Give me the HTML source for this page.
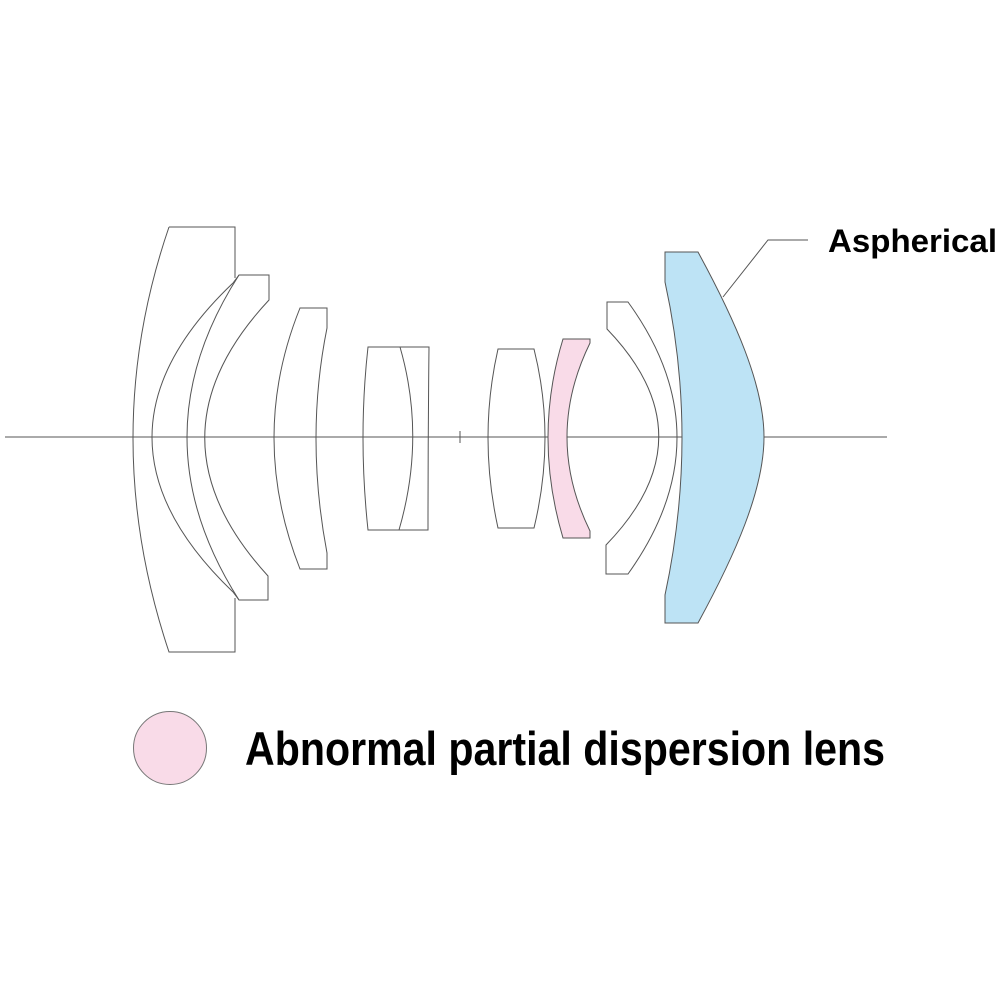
<!DOCTYPE html>
<html><head><meta charset="utf-8"><style>html,body{margin:0;padding:0;background:#fff}svg{display:block}</style></head>
<body>
<svg width="1000" height="1000" viewBox="0 0 1000 1000" xmlns="http://www.w3.org/2000/svg">
<g fill="none" stroke="#555" stroke-width="1">
<line x1="5" y1="437" x2="887" y2="437"/>
<line x1="460" y1="431" x2="460" y2="443"/>
<!-- blue aspherical -->
<path d="M665,252 L698,252 C735,320 764,385 764,437 C764,490 735,555 698,623 L665,623 L665,595 Q699,437 665,282 Z" fill="#bde3f5"/>
<!-- pink -->
<path d="M563,339 L590,339 L590,343 Q544,437 590,531 L590,538 L563,538 Q533,437 563,339 Z" fill="#f9dbe8"/>
<!-- lens 1 -->
<path d="M169,227 L235,227 L235,278 M233,283 Q71,437 233,592 M235,598 L235,652 L169,652 Q97,437 169,227"/>
<!-- lens 2 -->
<path d="M239,275 L269,275 L269,300 Q141,437 268,576 L268,600 L239,600 Q135,437 239,275 Z"/>
<path d="M239,275 L233,283 M239,600 L233,592"/>
<!-- lens 3 -->
<path d="M300,308 L327,308 L327,328 Q305,437 327,553 L327,569 L300,569 Q248,437 300,308 Z"/>
<!-- lens 4 doublet -->
<path d="M368,347 L429,347 Q428,437 428,530 L368,530 Q358,437 368,347 Z"/>
<path d="M400,347 Q426,437 399,530"/>
<!-- lens 5 -->
<path d="M498,349 L534,349 Q556,437 534,528 L498,528 Q478,437 498,349 Z"/>
<!-- lens 7 -->
<path d="M607,302 L628,302 Q726,437 628,574 L606,574 L606,545 Q711,437 607,329 Z"/>
<!-- leader -->
<polyline points="723,297 768,240 808,240"/>
<circle cx="170" cy="748" r="36.5" fill="#f9dbe8" stroke="#777"/>
</g>
<text x="828" y="252" font-family="Liberation Sans, sans-serif" font-size="32" font-weight="bold" textLength="169" lengthAdjust="spacingAndGlyphs" fill="#000">Aspherical</text>
<text x="245" y="765" font-family="Liberation Sans, sans-serif" font-size="47" font-weight="bold" textLength="640" lengthAdjust="spacingAndGlyphs" fill="#000">Abnormal partial dispersion lens</text>
</svg>
</body></html>
